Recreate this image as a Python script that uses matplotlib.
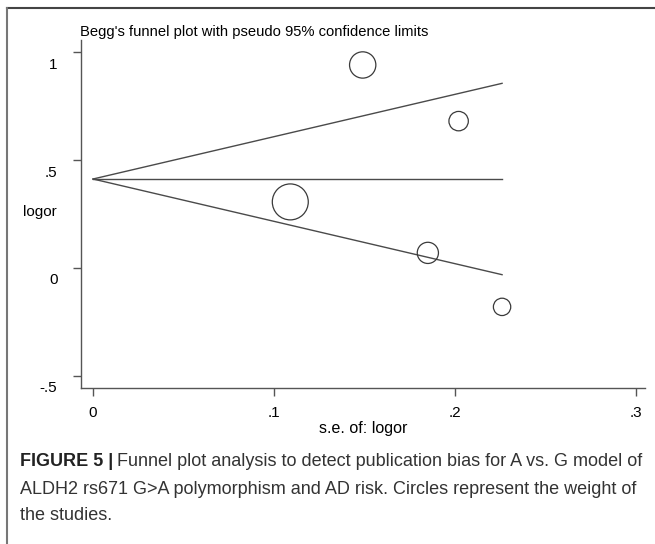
import matplotlib
matplotlib.use("Agg")
from matplotlib import pyplot as plt
from matplotlib.lines import Line2D
from matplotlib.transforms import ScaledTranslation
import numpy as np

# study data
se_logor = [0.149, 0.202, 0.109, 0.185, 0.226]
logor = [0.94, 0.68, 0.306, 0.07, -0.18]
pooled = 0.412  # pseudo 95% limits centre

xticks = [0, 0.1, 0.2, 0.3]
xticklabels = ['0', '.1', '.2', '.3']
yticks = [-0.5, 0, 0.5, 1]
yticklabels = ['-.5', '0', '.5', '1']

plt.rcParams['font.family'] = ['Liberation Sans', 'DejaVu Sans']

fig = plt.figure(figsize=(6.55, 5.44), dpi=100)
W, H = 655.0, 544.0
ax = fig.add_axes([81 / W, 1 - 388 / H, 564 / W, 348 / H])

se = np.array(se_logor)
lo = np.array(logor)

# pseudo confidence limits
se_max = se.max()
lc = '#4a4a4a'
ax.plot([0, se_max], [pooled, pooled], color=lc, lw=1.0)
ax.plot([0, se_max], [pooled, pooled + 1.96 * se_max], color=lc, lw=1.0)
ax.plot([0, se_max], [pooled, pooled - 1.96 * se_max], color=lc, lw=1.0)

# circles sized by weight 1/se^2
w = 1 / se ** 2
rad_px = 1.96 * np.sqrt(w)
size = (2 * rad_px * 0.72) ** 2
ax.scatter(se, lo, s=size, facecolors='none', edgecolors='#3a3a3a', linewidths=0.9, zorder=3)

ax.set_xlim(-0.00663, 0.30497)
ax.set_ylim(-0.5556, 1.0556)
ax.set_xticks(xticks)
ax.set_xticklabels(xticklabels, fontsize=11)
ax.set_yticks(yticks)
ax.set_yticklabels(yticklabels, fontsize=11)
ax.tick_params(axis='both', length=6, width=1, color='#555555')
ax.tick_params(axis='x', pad=7)
ax.tick_params(axis='y', pad=11)
for lab in ax.get_yticklabels():
    lab.set_transform(lab.get_transform() + ScaledTranslation(0, -0.11, fig.dpi_scale_trans))

for s in ['top', 'right']:
    ax.spines[s].set_visible(False)
for s in ['left', 'bottom']:
    ax.spines[s].set_color('#555555')
    ax.spines[s].set_linewidth(1.0)

ax.set_xlabel('s.e. of: logor', fontsize=11.5, labelpad=1)
ax.set_ylabel('logor', fontsize=11, rotation=0, va='center', ha='center')
ax.yaxis.set_label_coords((40 - 81) / 564, (388 - 212) / 348)

fig.text(80 / W, 1 - 32 / H, "Begg's funnel plot with pseudo 95% confidence limits",
         fontsize=10.6, ha='left', va='center')

# frame around the figure
fig.add_artist(Line2D([7 / W, 1], [1 - 8 / H, 1 - 8 / H], color='#444444', lw=1.5))
fig.add_artist(Line2D([7 / W, 7 / W], [0, 1 - 8 / H], color='#777777', lw=1.5))

# caption
cc = '#333333'
cfs = 12.95
t1 = fig.text(20 / W, 1 - 462 / H, 'FIGURE 5 |', fontsize=cfs, fontweight='bold',
              color='#222222', ha='left', va='center')
fig.canvas.draw()
bb = t1.get_window_extent()
fig.text(bb.x1 / W + 4 / W, 1 - 462 / H,
         'Funnel plot analysis to detect publication bias for A vs. G model of',
         fontsize=cfs, color=cc, ha='left', va='center')
fig.text(20 / W, 1 - 489 / H,
         'ALDH2 rs671 G>A polymorphism and AD risk. Circles represent the weight of',
         fontsize=cfs, color=cc, ha='left', va='center')
fig.text(20 / W, 1 - 516 / H, 'the studies.', fontsize=cfs, color=cc, ha='left', va='center')

fig.savefig('out.png', dpi=100)
